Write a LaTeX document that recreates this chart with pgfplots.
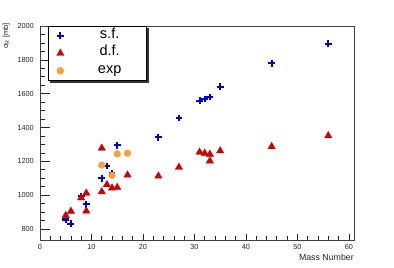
\documentclass[border=0pt]{standalone}
\usepackage{fontspec}
\setmainfont{Liberation Sans}
\usepackage{pgfplots}
\pgfplotsset{compat=1.18}
\definecolor{sfblue}{RGB}{0,0,210}
\definecolor{dfred}{RGB}{208,0,0}
\definecolor{exporange}{RGB}{250,160,60}
\begin{document}
\begin{tikzpicture}[x=1pt,y=1pt]
\path[use as bounding box] (0,0) rectangle (394,268);
% y-axis ticks (longer) drawn by a helper axis
\begin{axis}[
  at={(40pt,28pt)}, anchor=south west,
  scale only axis, width=314pt, height=214pt,
  xmin=0, xmax=61, ymin=735, ymax=2000,
  axis line style={black!75, line width=0.8pt},
  xtick=\empty,
  ytick={800,1000,...,2000}, minor y tick num=3,
  yticklabels={},
  tick align=inside, tick pos=left,
  major tick length=9.5pt, minor tick length=5pt,
  tick style={black!85, line width=0.6pt},
]
\end{axis}
\begin{axis}[
  at={(40pt,28pt)}, anchor=south west,
  scale only axis, width=314pt, height=214pt,
  xmin=0, xmax=61, ymin=735, ymax=2000,
  axis line style={black!75, line width=0.8pt},
  xtick={0,10,...,60}, minor x tick num=4,
  ytick={800,1000,...,2000}, minor y tick num=3,
  tick align=inside, tick pos=left,
  major tick length=6pt, minor tick length=3.5pt,
  tick style={black!85, line width=0.6pt},
  /pgf/number format/assume math mode=true,
  /pgf/number format/set thousands separator={},
  ticklabel style={font=\fontsize{7.3}{8}\selectfont, black!85},
  xticklabel style={anchor=north, inner sep=0pt, yshift=-4pt},
  yticklabel style={anchor=east, inner sep=0pt, xshift=-6pt},
  xlabel={Mass Number},
  xlabel style={at={(axis description cs:1,-0.0794)}, anchor=east, inner sep=0pt,
    font=\fontsize{8.8}{9}\selectfont, black!85},
  ylabel={σ\textsubscript{R} [mb]},
  ylabel style={at={(axis description cs:-0.108,1.014)}, anchor=east, inner sep=0pt,
    font=\fontsize{7.5}{8}\selectfont, black!85},
  legend style={name=leg, at={(rel axis cs:0.0255,1)}, anchor=north west,
    draw=black, line width=0.6pt, fill=white, inner sep=0.75pt,
    row sep=0pt, column sep=0pt,
    font=\fontsize{14.5}{14.5}\selectfont,
    nodes={inner sep=0pt, text height=11pt, text depth=6.5pt}},
  legend image code/.code={\path (0pt,-8pt) (24pt,8pt);
    \draw[mark repeat=1] plot coordinates {(11pt,0pt)};},
  clip=false,
]
\addplot[only marks, mark=+, color=sfblue, mark size=3.4pt, mark options={line width=2.1pt}]
coordinates {
(5,856) (6,832) (8,994) (9,947) (12,1100) (13,1173) (14,1129) (15,1295)
(23,1343) (27,1456) (31,1558) (32,1568) (33,1580) (35,1640) (45,1780) (56,1895)
};
\addlegendentry{\makebox[72pt]{s.f.}}
\addplot[only marks, mark=triangle*, color=dfred, mark size=4.3pt, mark options={line width=0.3pt}]
coordinates {
(5,880) (6,905) (8,984) (9,1012) (9,906) (12,1278) (12,1020) (13,1062)
(14,1042) (15,1046) (17,1119) (23,1113) (27,1165) (31,1254) (32,1248)
(33,1242) (33,1202) (35,1262) (45,1287) (56,1351)
};
\addlegendentry{\makebox[72pt]{d.f.}}
\addplot[only marks, mark=*, color=exporange, mark size=3.4pt]
coordinates {
(12,1178) (14,1117) (15,1244) (17,1248)
};
\addlegendentry{\makebox[72pt]{exp}}
\end{axis}
\fill[black!80] ([xshift=0.3pt,yshift=-2pt]leg.north east) rectangle ([xshift=2.3pt,yshift=-2pt]leg.south east);
\fill[black!80] ([xshift=2pt,yshift=-0.3pt]leg.south west) rectangle ([xshift=2.3pt,yshift=-2.3pt]leg.south east);
\end{tikzpicture}
\end{document}
